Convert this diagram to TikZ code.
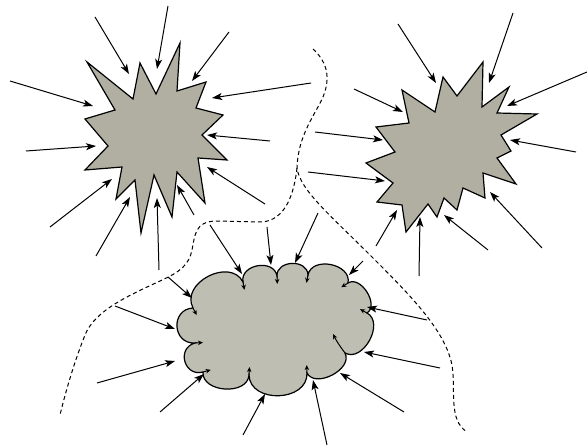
\documentclass[tikz,border=0pt]{standalone}
\usetikzlibrary{arrows.meta,calc}
\definecolor{burst}{RGB}{176,175,161}
\definecolor{cloudc}{RGB}{190,190,178}
\newcommand{\cpuff}[3]{.. controls ($(#1)!#3!90:(#2)$) and ($(#2)!#3!-90:(#1)$) .. (#2)}
\begin{document}
\begin{tikzpicture}[x=1pt,y=-1pt,
  arr/.style={-{Stealth[length=10pt,width=7pt,inset=2.5pt]},line width=1pt},
  ctip/.style={-{Stealth[length=5pt,width=4.5pt,inset=1.5pt]},line width=1pt},
  shp/.style={draw,line width=1.2pt,line join=miter,fill=burst},
  cshp/.style={draw,line width=1.2pt,fill=cloudc},
  dsh/.style={dash pattern=on 4pt off 3pt,line width=1pt}]
\useasboundingbox (0,0) rectangle (587,446);

% dashed boundaries
\draw[dsh] (313,49) .. controls (325,60) and (332,75) .. (323,97)
  .. controls (315,115) and (298,135) .. (297,168)
  .. controls (300,190) and (330,215) .. (370,255)
  .. controls (410,295) and (445,330) .. (452,365)
  .. controls (456,390) and (448,420) .. (467,432);
\draw[dsh] (297,168) .. controls (294,195) and (285,220) .. (262,222)
  -- (215,221) .. controls (195,222) and (195,235) .. (192,250)
  .. controls (189,265) and (180,272) .. (160,281)
  .. controls (130,295) and (95,310) .. (85,335)
  .. controls (75,360) and (66,390) .. (60,415);

% starburst 1
\draw[shp] (180,43) -- (177,91) -- (206,82) -- (196,108) -- (223,115) -- (202,135)
  -- (227,160) -- (198,158) -- (205,203) -- (177,172) -- (172,217) -- (154,175)
  -- (141,233) -- (135,180) -- (116,199) -- (122,167) -- (85,170) -- (108,146)
  -- (85,119) -- (115,110) -- (87,62) -- (133,99) -- (140,63) -- (156,94) -- cycle;

% starburst 2
\draw[shp] (483,62) -- (482,107) -- (509,87) -- (497,113) -- (537,114) -- (501,135)
  -- (511,151) -- (497,158) -- (516,184) -- (483,173) -- (485,198) -- (463,188)
  -- (457,210) -- (444,198) -- (437,217) -- (428,204) -- (406,232) -- (402,205)
  -- (377,202) -- (393,183) -- (366,163) -- (395,152) -- (376,127) -- (409,123)
  -- (402,90) -- (435,112) -- (443,77) -- (457,96) -- cycle;

% cloud
\coordinate (c1) at (193,308);
\coordinate (c2) at (243,282);
\coordinate (c3) at (277,276);
\coordinate (c4) at (308,275);
\coordinate (c5) at (348,283);
\coordinate (c6) at (367,313);
\coordinate (c7) at (345,353);
\coordinate (c8) at (307,373);
\coordinate (c9) at (249,375);
\coordinate (c10) at (203,372);
\coordinate (c11) at (195,343);
\draw[cshp] (c1) \cpuff{c1}{c2}{0.5} \cpuff{c2}{c3}{0.52} \cpuff{c3}{c4}{0.52}
  \cpuff{c4}{c5}{0.48} \cpuff{c5}{c6}{0.42} \cpuff{c6}{c7}{0.45} \cpuff{c7}{c8}{0.42}
  \cpuff{c8}{c9}{0.5} \cpuff{c9}{c10}{0.45} \cpuff{c10}{c11}{0.65}
  \cpuff{c11}{c1}{0.65} -- cycle;
\foreach \i/\j in {1/2,2/3,3/4,4/5,5/6,6/7,8/9,9/10,10/11,11/1}
  \draw[ctip] (c\i) -- ($(c\i)!8pt!-90:(c\j)$);
\draw[ctip] (c7) .. controls (339,345) and (336,340) .. (333,334);

% arrows
\foreach \x/\y/\u/\v in {
  95/17/129/74, 168/6/157/69, 229/32/192/81, 10/81/93/106, 311/83/212/98,
  26/151/96/146, 270/141/207/135, 265/204/207/167, 50/227/112/179,
  96/256/130/197, 159/270/157/198, 194/215/177/185,
  398/24/436/83, 513/13/489/83, 587/72/507/106, 354/89/403/112,
  315/132/383/140, 576/152/510/140, 308/172/385/181, 542/248/490/192,
  488/250/444/215, 419/276/420/217, 376/246/397/210,
  363/261/349/275, 210/225/242/274, 267/227/271/265, 318/213/295/263,
  168/277/192/298, 115/306/175/329, 97/383/175/361, 160/412/204/374,
  243/435/265/394, 327/445/313/380, 404/412/340/373, 440/368/364/352,
  427/320/367/307}
  \draw[arr] (\x,\y) -- (\u,\v);
\end{tikzpicture}
\end{document}
